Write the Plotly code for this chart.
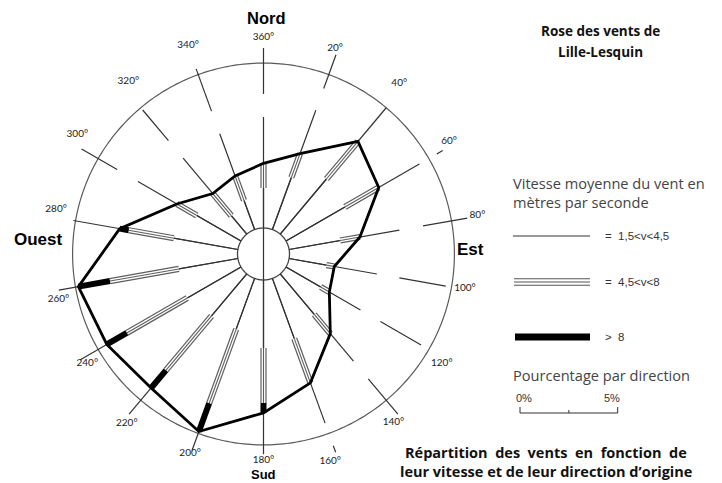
import numpy as np
import plotly.graph_objects as go

W, H = 722, 483

# ---- data -------------------------------------------------------------
DIRECTIONS = list(range(0, 360, 20))
DIR_LABELS = ["360°", "20°", "40°", "60°", "80°", "100°", "120°", "140°", "160°",
              "180°", "200°", "220°", "240°", "260°", "280°", "300°", "320°", "340°"]
# share of observations (%) per direction of origin, by speed class
LOW_PCT = [2.05, 2.84, 3.68, 3.48, 2.66, 1.94, 2.05, 2.71, 3.28,
           3.48, 2.76, 2.81, 3.17, 3.07, 3.33, 2.61, 1.23, 1.59]      # 1,5 < v < 4,5
MID_PCT = [1.26, 1.30, 2.51, 2.00, 1.02, 0.41, 0.51, 1.28, 2.41,
           2.81, 4.04, 3.63, 3.58, 3.58, 2.35, 1.18, 1.48, 1.33]      # 4,5 < v < 8
HIGH_PCT = [0, 0, 0, 0, 0, 0, 0, 0, 0,
            0.51, 1.54, 1.18, 1.18, 1.64, 0.46, 0, 0, 0]              # v > 8
SCALE_LABELS = ["0%", "5%"]
SCALE_MAX = 5

# ---- geometry of the rose (radial unit = %) ---------------------------
PX_PER_PCT = 19.54
CALM_R = 1.33          # central circle
RING_R = 9.77          # outer circle
R_MAX = 11.6           # radial extent of the polar area
CX, CY = 263.5, 254.0  # centre of the rose, px

# radial guide for each direction: inner part end, then outer graduation tick
GUIDE_END = [7.01, 7.83, 9.77, 9.21, 7.06, 5.89, 5.73, 7.16, 9.21,
             10.25, 10.70, 10.70, 10.85, 10.64, 9.88, 7.42, 6.40, 6.55]
GUIDE_TICK = [(8.19, 10.54), (9.01, 10.85), None, (10.24, 10.59), (8.29, 10.59),
              (7.06, 9.47), (6.91, 9.31), (8.34, 10.70), (10.44, 10.80),
              None, None, None, None, None, None,
              (8.65, 10.75), (7.57, 9.62), (7.78, 10.08)]
LABEL_POS = [(11.08, 0), (11.15, 19.2), (11.16, 38.5), (11.10, 58.8), (11.12, 79.9),
             (10.46, 99.7), (10.70, 121.5), (10.90, 142.4), (11.16, 162.2),
             (10.55, 180), (10.87, 200.2), (11.14, 218.9), (10.61, 238.2),
             (10.75, 257.5), (10.86, 282.2), (11.31, 302.6), (11.21, 321.9), (11.34, 340.1)]


def segments(pairs):
    """Radial segments [(theta, r0, r1), ...] -> r/theta lists split by None."""
    rs, ts = [], []
    for t, r0, r1 in pairs:
        if r1 - r0 <= 0:
            continue
        rs += [r0, r1, None]
        ts += [t, t, None]
    return rs, ts


def px(x):
    return x / W


def py(y):
    return 1 - y / H


low_end = [CALM_R + a for a in LOW_PCT]
mid_end = [l + b for l, b in zip(low_end, MID_PCT)]
high_end = [m + c for m, c in zip(mid_end, HIGH_PCT)]

fig = go.Figure()

# outer circle
circ_t = np.linspace(0, 360, 361)
fig.add_trace(go.Scatterpolar(r=[RING_R] * len(circ_t), theta=circ_t, mode="lines",
                              line=dict(color="#5a5a5a", width=1.2), hoverinfo="skip"))

# radial guides (the N-S one runs through the centre)
guide = []
for i, d in enumerate(DIRECTIONS):
    start = 0 if d in (0, 180) else CALM_R
    guide.append((d, start, GUIDE_END[i]))
    if GUIDE_TICK[i] is not None:
        guide.append((d, GUIDE_TICK[i][0], GUIDE_TICK[i][1]))
gr, gt = segments(guide)
fig.add_trace(go.Scatterpolar(r=gr, theta=gt, mode="lines",
                              line=dict(color="#333333", width=1.2), hoverinfo="skip"))

# central circle
fig.add_trace(go.Scatterpolar(r=[CALM_R] * len(circ_t), theta=circ_t, mode="lines",
                              line=dict(color="#444444", width=1.3), hoverinfo="skip"))

# 1,5 < v < 4,5 : single thin line
lr, lt = segments([(d, CALM_R, e) for d, e in zip(DIRECTIONS, low_end)])
fig.add_trace(go.Scatterpolar(r=lr, theta=lt, mode="lines",
                              line=dict(color="#333333", width=1.2), hoverinfo="skip"))

# 4,5 < v < 8 : triple line
mr, mt = segments([(d, a, b) for d, a, b in zip(DIRECTIONS, low_end, mid_end)])
for col, wd in (("#5e5e5e", 6.2), ("white", 3.8), ("#5e5e5e", 1.1)):
    fig.add_trace(go.Scatterpolar(r=mr, theta=mt, mode="lines",
                                  line=dict(color=col, width=wd), hoverinfo="skip"))

# v > 8 : thick bar
hr, ht = segments([(d, a, b) for d, a, b in zip(DIRECTIONS, mid_end, high_end)])
fig.add_trace(go.Scatterpolar(r=hr, theta=ht, mode="lines",
                              line=dict(color="black", width=6), hoverinfo="skip"))

# envelope joining the totals
fig.add_trace(go.Scatterpolar(r=high_end + [high_end[0]], theta=DIRECTIONS + [DIRECTIONS[0]],
                              mode="lines", line=dict(color="black", width=2.8),
                              hoverinfo="skip"))

# direction labels
fig.add_trace(go.Scatterpolar(r=[p[0] for p in LABEL_POS], theta=[p[1] for p in LABEL_POS],
                              mode="text", text=DIR_LABELS, cliponaxis=False,
                              textfont=dict(family="Lato", size=10, color="#222222"),
                              hoverinfo="skip"))

rad_px = R_MAX * PX_PER_PCT
fig.update_layout(
    width=W, height=H,
    margin=dict(l=0, r=0, t=0, b=0),
    paper_bgcolor="white",
    showlegend=False,
    polar=dict(
        domain=dict(x=[(CX - rad_px) / W, (CX + rad_px) / W],
                    y=[(H - CY - rad_px) / H, (H - CY + rad_px) / H]),
        bgcolor="rgba(0,0,0,0)",
        angularaxis=dict(rotation=90, direction="clockwise", visible=False),
        radialaxis=dict(range=[0, R_MAX], visible=False),
    ),
)

# ---- legend ------------------------------------------------------------
shapes = []
shapes.append(dict(type="line", xref="paper", yref="paper",
                   x0=px(513), x1=px(590), y0=py(236), y1=py(236),
                   line=dict(color="#333333", width=1.2)))
for dy in (-3.3, 0, 3.3):
    shapes.append(dict(type="line", xref="paper", yref="paper",
                       x0=px(514), x1=px(590), y0=py(282 + dy), y1=py(282 + dy),
                       line=dict(color="#555555", width=1.1)))
shapes.append(dict(type="rect", xref="paper", yref="paper",
                   x0=px(515), x1=px(590), y0=py(333.5), y1=py(340.5),
                   line=dict(width=0), fillcolor="black"))
# percentage scale bar
s0, s1 = 520, 520 + SCALE_MAX * PX_PER_PCT
shapes.append(dict(type="line", xref="paper", yref="paper",
                   x0=px(s0), x1=px(s1), y0=py(413), y1=py(413),
                   line=dict(color="#333333", width=1)))
for xx, top in ((s0, 407), ((s0 + s1) / 2, 410), (s1, 407)):
    shapes.append(dict(type="line", xref="paper", yref="paper",
                       x0=px(xx), x1=px(xx), y0=py(413), y1=py(top),
                       line=dict(color="#333333", width=1)))
fig.update_layout(shapes=shapes)


def note(text, x, y, size, family="Open Sans", color="#222222", anchor="center",
         bold=False, vanchor="middle"):
    if bold:
        text = "<b>" + text + "</b>"
    fig.add_annotation(text=text, x=px(x), y=py(y), xref="paper", yref="paper",
                       xanchor=anchor, yanchor=vanchor, showarrow=False,
                       font=dict(family=family, size=size, color=color))


BOLD_SANS = "Liberation Sans"
note("Nord", 266, 17.5, 16.5, BOLD_SANS, "black", bold=True)
note("Sud", 263, 484, 13, BOLD_SANS, "black", bold=True, vanchor="bottom")
note("Ouest", 38, 239, 17, BOLD_SANS, "black", bold=True)
note("Est", 470, 249, 17, BOLD_SANS, "black", bold=True)

note("Rose des vents de", 600, 31, 13.5, color="#111111", bold=True)
note("Lille-Lesquin", 600, 52, 13.5, color="#111111", bold=True)

note("Vitesse moyenne du vent en", 511, 183, 14.6, color="#444444", anchor="left")
note("mètres par seconde", 511, 202, 14.6, color="#444444", anchor="left")
note("=  1,5&lt;v&lt;4,5", 603, 236, 11.5, "Liberation Sans", "#333333", anchor="left")
note("=  4,5&lt;v&lt;8", 603, 282, 11.5, "Liberation Sans", "#333333", anchor="left")
note("&gt;  8", 603, 337, 11.5, "Liberation Sans", "#333333", anchor="left")
note("Pourcentage par direction", 511, 375, 14.6, color="#444444", anchor="left")
note(SCALE_LABELS[0], s0 - 6, 398, 11, "Liberation Sans", "#333333", anchor="left")
note(SCALE_LABELS[1], s1 + 4, 398, 11, "Liberation Sans", "#333333", anchor="right")

note("Répartition\u00a0 des\u00a0 vents\u00a0 en\u00a0 fonction\u00a0 de", 546, 452, 14.5,
     color="#111111", bold=True)
note("leur vitesse et de leur direction d’origine", 546, 471, 14.5,
     color="#111111", bold=True)

fig.write_html("out.html")
